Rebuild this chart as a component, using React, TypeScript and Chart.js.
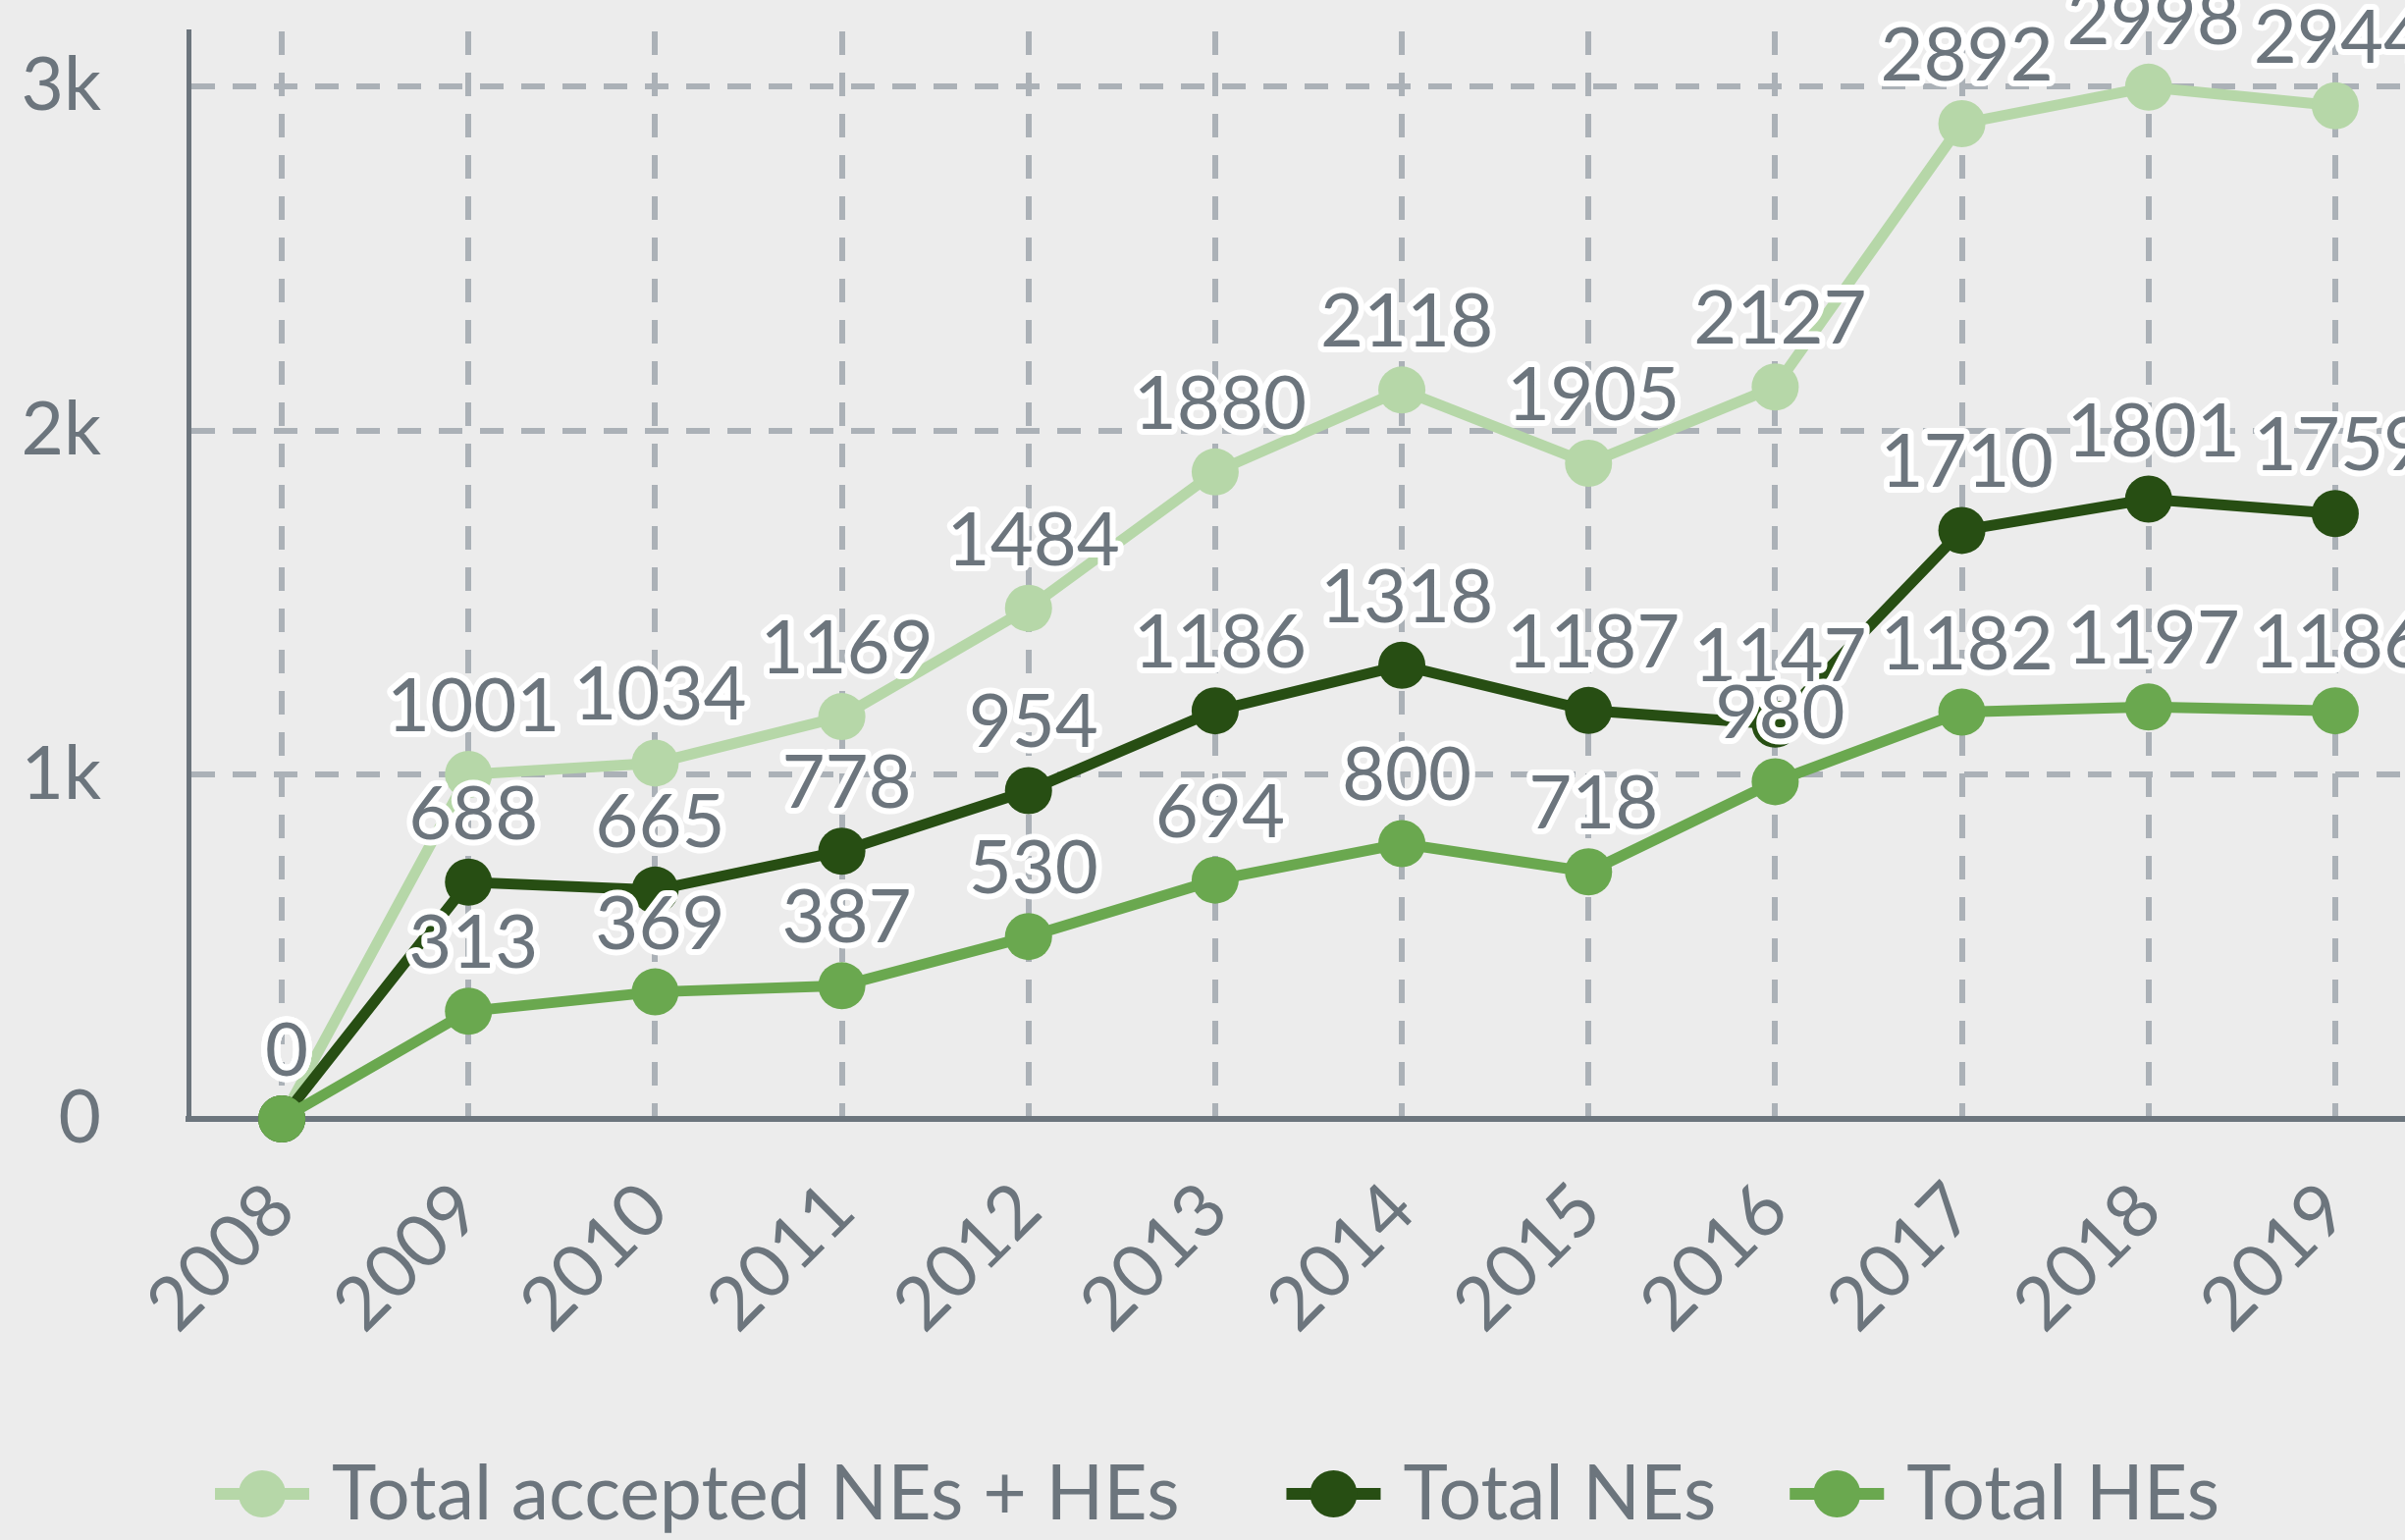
import React, { useEffect, useRef } from "react";
import { Chart, registerables } from "chart.js";

Chart.register(...registerables);

// ---- data ----
const years = ["2008", "2009", "2010", "2011", "2012", "2013", "2014", "2015", "2016", "2017", "2018", "2019"];
const totalAccepted = [0, 1001, 1034, 1169, 1484, 1880, 2118, 1905, 2127, 2892, 2998, 2944];
const totalNEs = [0, 688, 665, 778, 954, 1186, 1318, 1187, 1147, 1710, 1801, 1759];
const totalHEs = [0, 313, 369, 387, 530, 694, 800, 718, 980, 1182, 1197, 1186];
const seriesNames = ["Total accepted NEs + HEs", "Total NEs", "Total HEs"];
const seriesColors = ["#b6d7a8", "#274e13", "#6aa84f"];
const yTickValues = [0, 1000, 2000, 3000];
const yTickLabels = ["0", "1k", "2k", "3k"];
const yMax = 3160;

// ---- styles ----
const TEXT = "#6c757d";
const GRID = "#abb1b7";
const BG = "#ececec";
const FONT = "Lato";
const CANVAS_W = 2498;
const CANVAS_H = 1569;
const LABEL_SIZE = 76;
const LEGEND_SIZE = 77;

const valueLabels = {
  id: "valueLabels",
  afterDatasetsDraw(chart: any) {
    const ctx = chart.ctx;
    ctx.save();
    ctx.font = `${LABEL_SIZE}px ${FONT}`;
    ctx.textAlign = "center";
    ctx.textBaseline = "alphabetic";
    ctx.lineJoin = "round";
    ctx.lineWidth = 12;
    ctx.strokeStyle = "#ffffff";
    ctx.fillStyle = TEXT;
    chart.data.datasets.forEach((ds: any, i: number) => {
      const meta = chart.getDatasetMeta(i);
      meta.data.forEach((pt: any, j: number) => {
        const txt = String(ds.data[j]);
        const x = pt.x + 5;
        const y = pt.y - 44;
        ctx.strokeText(txt, x, y);
        ctx.fillText(txt, x, y);
      });
    });
    ctx.restore();
  },
};

const lineLegend = {
  id: "lineLegend",
  afterDraw(chart: any) {
    const ctx = chart.ctx;
    const gaps = [109, 75];
    ctx.save();
    ctx.font = `${LEGEND_SIZE}px ${FONT}`;
    ctx.textAlign = "left";
    ctx.textBaseline = "alphabetic";
    let x = 219;
    const cy = 1522;
    const baseline = 1548;
    chart.data.datasets.forEach((ds: any, i: number) => {
      const color = ds.borderColor;
      ctx.fillStyle = color;
      ctx.fillRect(x, cy - 6, 96, 12);
      ctx.beginPath();
      ctx.arc(x + 48, cy, 24, 0, Math.PI * 2);
      ctx.fill();
      const tx = x + 96 + 23;
      ctx.fillStyle = TEXT;
      ctx.fillText(ds.label, tx, baseline);
      const w = ctx.measureText(ds.label).width;
      x = tx + w + (gaps[i] ?? 0);
    });
    ctx.restore();
  },
};

export default function App() {
  const ref = useRef<HTMLCanvasElement | null>(null);

  useEffect(() => {
    let chart: Chart | null = null;
    let cancelled = false;
    const make = () => {
      if (cancelled || !ref.current) return;
      const mk = (label: string, data: number[], color: string, order: number) => ({
        label,
        data,
        borderColor: color,
        backgroundColor: color,
        pointBackgroundColor: color,
        pointBorderWidth: 0,
        pointRadius: 24,
        borderWidth: 11,
        tension: 0,
        clip: false as const,
        order,
      });
      chart = new Chart(ref.current, {
        type: "line",
        data: {
          labels: years,
          datasets: [
            mk(seriesNames[0], totalAccepted, seriesColors[0], 3),
            mk(seriesNames[1], totalNEs, seriesColors[1], 2),
            mk(seriesNames[2], totalHEs, seriesColors[2], 1),
          ],
        },
        options: {
          animation: false,
          responsive: false,
          devicePixelRatio: 1,
          layout: { padding: { left: 0, top: 32, right: 8, bottom: 0 } },
          plugins: {
            legend: { display: false },
            tooltip: { enabled: false },
          },
          scales: {
            x: {
              type: "category",
              offset: true,
              grid: { color: GRID, lineWidth: 6, drawTicks: false, offset: false },
              border: { color: TEXT, width: 6, dash: [24, 18] },
              ticks: {
                color: TEXT,
                font: { family: FONT, size: 75 },
                minRotation: 45,
                maxRotation: 45,
                autoSkip: false,
                padding: 48,
              },
              afterFit: (s: any) => {
                s.height = CANVAS_H - 1140;
                s.paddingLeft = 0;
                s.paddingRight = 0;
              },
            },
            y: {
              type: "linear",
              min: 0,
              max: yMax,
              grid: { color: GRID, lineWidth: 6, drawTicks: false },
              border: { color: TEXT, width: 5, dash: [24, 18] },
              afterBuildTicks: (s: any) => {
                s.ticks = yTickValues.map((v) => ({ value: v }));
              },
              ticks: {
                color: TEXT,
                font: { family: FONT, size: 75 },
                padding: 89,
                callback: (v: any) => yTickLabels[yTickValues.indexOf(Number(v))] ?? "",
              },
              afterFit: (s: any) => {
                s.width = 192;
                s.paddingTop = 0;
                s.paddingBottom = 0;
              },
            },
          },
        },
        plugins: [valueLabels, lineLegend],
      });
    };
    const fonts = (document as any).fonts;
    if (fonts && fonts.load) {
      Promise.all([fonts.load(`${LABEL_SIZE}px ${FONT}`), fonts.load(`${LEGEND_SIZE}px ${FONT}`)])
        .catch(() => {})
        .then(make);
    } else {
      make();
    }
    return () => {
      cancelled = true;
      if (chart) chart.destroy();
    };
  }, []);

  return (
    <div
      style={{
        position: "fixed",
        left: 0,
        top: 0,
        width: 2450,
        height: 1569,
        overflow: "hidden",
        background: BG,
      }}
    >
      <canvas
        ref={ref}
        width={CANVAS_W}
        height={CANVAS_H}
        style={{ display: "block", width: CANVAS_W, height: CANVAS_H }}
      />
    </div>
  );
}
